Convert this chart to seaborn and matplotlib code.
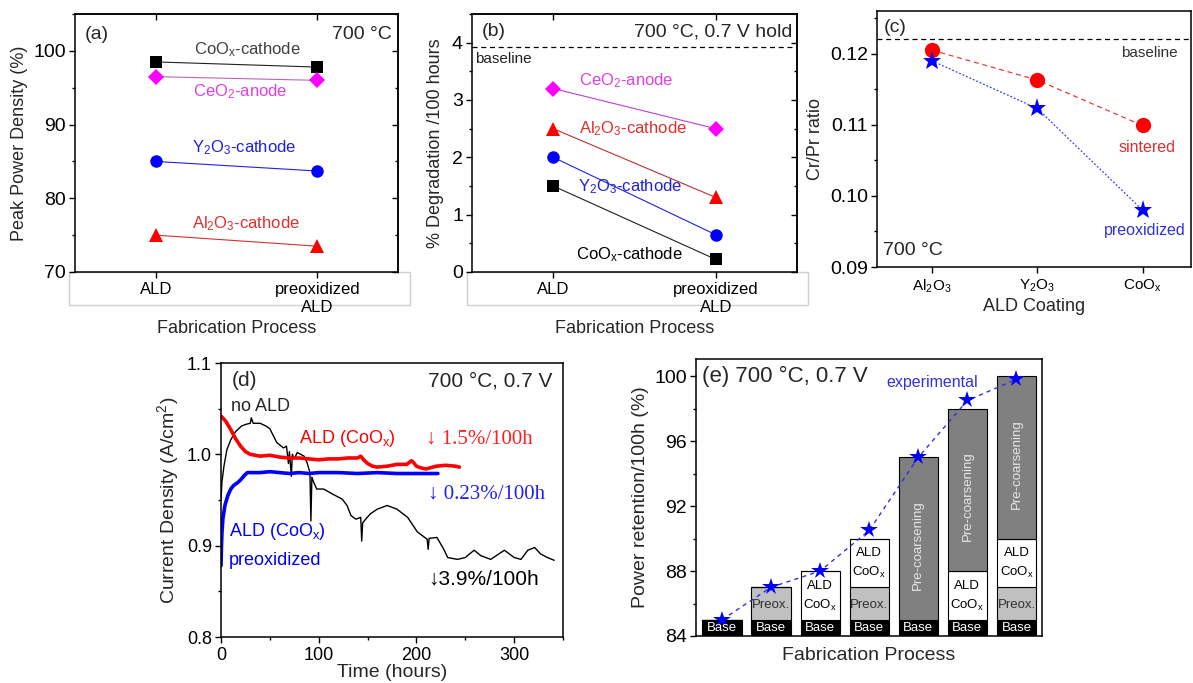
import matplotlib
matplotlib.use('Agg')
import matplotlib.pyplot as plt
from matplotlib.patches import Rectangle
from matplotlib.ticker import MultipleLocator, FormatStrFormatter
import seaborn as sns

# (a) peak power density, ALD vs preoxidized ALD
process = ['ALD', 'preoxidized\nALD']
ppd_coox = [98.5, 97.8]
ppd_ceo2 = [96.5, 96.0]
ppd_y2o3 = [85.0, 83.7]
ppd_al2o3 = [75.0, 73.5]

# (b) degradation per 100 h
deg_ceo2 = [3.2, 2.5]
deg_al2o3 = [2.5, 1.3]
deg_y2o3 = [2.0, 0.65]
deg_coox = [1.5, 0.22]
deg_baseline = 3.92

# (c) Cr/Pr ratio
coatings = ['Al$_2$O$_3$', 'Y$_2$O$_3$', 'CoO$_\\mathrm{x}$']
crpr_sintered = [0.1205, 0.1163, 0.1099]
crpr_preox = [0.1190, 0.1123, 0.0980]
crpr_baseline = 0.1221

# (d) current density vs time
t_noald = [0, 1, 3, 6, 10, 15, 21, 26, 30, 31, 33, 40, 46, 50, 57, 64, 67, 69, 70, 72, 73, 75, 78,
           85, 88, 91, 92, 93, 95, 98, 105, 115, 124, 129, 133, 138, 143, 144, 145, 148, 153, 160,
           170, 180, 191, 201, 211, 212, 213, 221, 228, 232, 242, 250, 259, 266, 276, 290, 300,
           307, 314, 321, 327, 334, 341]
j_noald = [0.951, 0.970, 0.987, 1.005, 1.016, 1.025, 1.031, 1.033, 1.034, 1.040, 1.034, 1.034,
           1.031, 1.028, 1.013, 1.007, 1.009, 0.990, 1.003, 0.976, 1.000, 0.995, 1.002, 0.998,
           0.991, 0.980, 0.927, 0.975, 0.969, 0.962, 0.962, 0.956, 0.951, 0.944, 0.933, 0.929,
           0.931, 0.905, 0.925, 0.929, 0.935, 0.940, 0.944, 0.940, 0.931, 0.915, 0.907, 0.896,
           0.908, 0.909, 0.896, 0.887, 0.885, 0.887, 0.895, 0.889, 0.885, 0.895, 0.887, 0.885,
           0.895, 0.898, 0.891, 0.887, 0.884]
t_coox = [0, 5, 10, 15, 20, 25, 30, 40, 50, 60, 70, 80, 90, 100, 110, 120, 130, 140, 143, 146,
          150, 155, 160, 170, 180, 190, 195, 197, 200, 205, 210, 220, 230, 240, 244]
j_coox = [1.042, 1.036, 1.027, 1.017, 1.009, 1.003, 1.000, 0.998, 0.999, 0.997, 0.996, 0.996,
          0.995, 0.994, 0.995, 0.995, 0.996, 0.996, 0.998, 0.994, 0.990, 0.987, 0.986, 0.987,
          0.989, 0.989, 0.993, 0.991, 0.987, 0.985, 0.984, 0.987, 0.988, 0.987, 0.986]
t_preox = [0, 0.5, 1, 2, 4, 7, 10, 13, 17, 20, 24, 27, 30, 40, 50, 60, 70, 80, 90, 100, 120,
           140, 160, 180, 200, 222]
j_preox = [0.878, 0.900, 0.915, 0.930, 0.944, 0.955, 0.962, 0.966, 0.969, 0.972, 0.977, 0.980,
           0.980, 0.980, 0.981, 0.980, 0.979, 0.980, 0.979, 0.980, 0.980, 0.979, 0.980, 0.979,
           0.979, 0.979]

# (e) stacked contributions to power retention
seg_base = [1, 1, 1, 1, 1, 1, 1]
seg_preox = [0, 2, 0, 2, 0, 0, 2]
seg_ald = [0, 0, 3, 3, 0, 3, 3]
seg_coarse = [0, 0, 0, 0, 10, 10, 10]
experimental = [85.0, 87.0, 88.0, 90.5, 95.0, 98.5, 99.8]

sns.set_theme(style='ticks')
plt.rcParams['font.family'] = ['Liberation Sans', 'DejaVu Sans']
plt.rcParams['mathtext.fontset'] = 'custom'
plt.rcParams['mathtext.rm'] = 'Liberation Sans'
plt.rcParams['mathtext.it'] = 'Liberation Sans:italic'
plt.rcParams['axes.edgecolor'] = 'black'
plt.rcParams['axes.linewidth'] = 1.1
plt.rcParams['xtick.color'] = 'black'
plt.rcParams['ytick.color'] = 'black'

W, H = 1193, 683
fig = plt.figure(figsize=(W / 100, H / 100), dpi=100)


def px_axes(left, top, right, bottom):
    return fig.add_axes([left / W, 1 - bottom / H, (right - left) / W, (bottom - top) / H])


def style_ticks(ax, ysize=14, xsize=12):
    ax.tick_params(which='major', direction='out', length=4.5, width=1, labelsize=ysize, axis='y', pad=2)
    ax.tick_params(which='minor', direction='out', length=2.5, width=1, axis='y')
    ax.tick_params(which='major', direction='out', length=4.5, width=1, labelsize=xsize, axis='x', pad=3)
    ax.tick_params(which='minor', direction='out', length=2.5, width=1, axis='x')
    for s in ax.spines.values():
        s.set_visible(True)
        s.set_color('black')


def mirror(ax, xmaj, ymaj, ymin):
    top = ax.secondary_xaxis('top')
    top.set_xticks(xmaj)
    top.tick_params(direction='in', length=4, width=1, labeltop=False, labelbottom=False)
    right = ax.secondary_yaxis('right')
    right.set_yticks(ymaj)
    right.set_yticks(ymin, minor=True)
    right.tick_params(which='both', direction='in', labelright=False, labelleft=False)
    right.tick_params(which='major', length=4, width=1)
    right.tick_params(which='minor', length=2.5, width=1)


def series(ax, x, y, line_c, mark_c, marker, ms):
    sns.lineplot(x=x, y=y, ax=ax, color=line_c, lw=0.8, marker=marker, ms=ms,
                 mfc=mark_c, mec=mark_c, mew=0, estimator=None, sort=False)


# ---------- (a) ----------
ax = px_axes(75, 14, 398, 272)
series(ax, [0, 1], ppd_coox, '#202020', 'black', 's', 8)
series(ax, [0, 1], ppd_ceo2, '#b868b8', '#ff00ff', 'D', 8)
series(ax, [0, 1], ppd_y2o3, '#2020e0', '#0000ff', 'o', 9)
series(ax, [0, 1], ppd_al2o3, '#d83030', '#ff0000', '^', 10)
ax.set_xlim(-0.5, 1.5)
ax.set_ylim(70, 105)
ax.set_xticks([0, 1])
ax.set_xticklabels(process)
ax.yaxis.set_major_locator(MultipleLocator(10))
ax.yaxis.set_minor_locator(MultipleLocator(5))
style_ticks(ax)
mirror(ax, [0, 1], [70, 80, 90, 100], [75, 85, 95, 105])
ax.set_xlabel('Fabrication Process', fontsize=13)
ax.set_ylabel('Peak Power Density (%)', fontsize=13, labelpad=4)
ax.text(0.03, 0.955, '(a)', transform=ax.transAxes, fontsize=14, va='top')
ax.text(0.98, 0.955, '700 °C', transform=ax.transAxes, fontsize=14, va='top', ha='right')
ax.text(0.565, 100.1, 'CoO$_\\mathrm{x}$-cathode', color='#404040', fontsize=12, ha='center', va='center')
ax.text(0.52, 94.5, 'CeO$_2$-anode', color='#e040e0', fontsize=12, ha='center', va='center')
ax.text(0.55, 86.9, 'Y$_2$O$_3$-cathode', color='#2020e0', fontsize=12, ha='center', va='center')
ax.text(0.56, 76.6, 'Al$_2$O$_3$-cathode', color='#e03030', fontsize=12, ha='center', va='center')

# ---------- (b) ----------
ax = px_axes(472, 14, 797, 272)
series(ax, [0, 1], deg_ceo2, '#c040c8', '#ff00ff', 'D', 8)
series(ax, [0, 1], deg_al2o3, '#c03030', '#ff0000', '^', 10)
series(ax, [0, 1], deg_y2o3, '#2020e0', '#0000ff', 'o', 9)
series(ax, [0, 1], deg_coox, '#202020', 'black', 's', 8)
ax.axhline(deg_baseline, color='black', lw=0.9, ls=(0, (4, 3)))
ax.set_xlim(-0.5, 1.5)
ax.set_ylim(0, 4.5)
ax.set_xticks([0, 1])
ax.set_xticklabels(process)
ax.yaxis.set_major_locator(MultipleLocator(1))
ax.yaxis.set_minor_locator(MultipleLocator(0.5))
style_ticks(ax)
mirror(ax, [0, 1], [0, 1, 2, 3, 4], [0.5, 1.5, 2.5, 3.5])
ax.set_xlabel('Fabrication Process', fontsize=13)
ax.set_ylabel('% Degradation /100 hours', fontsize=13, labelpad=6)
ax.text(0.03, 0.965, '(b)', transform=ax.transAxes, fontsize=14, va='top')
ax.text(0.985, 0.965, '700 °C, 0.7 V hold', transform=ax.transAxes, fontsize=14, va='top', ha='right')
ax.text(0.01, 3.72, 'baseline', transform=ax.get_yaxis_transform(), fontsize=11, va='center', color='#202020')
ax.text(0.45, 3.33, 'CeO$_2$-anode', color='#e040e0', fontsize=12, ha='center', va='center')
ax.text(0.49, 2.50, 'Al$_2$O$_3$-cathode', color='#e03030', fontsize=12, ha='center', va='center')
ax.text(0.47, 1.48, 'Y$_2$O$_3$-cathode', color='#2020e0', fontsize=12, ha='center', va='center')
ax.text(0.47, 0.30, 'CoO$_\\mathrm{x}$-cathode', color='black', fontsize=12, ha='center', va='center')

# light frames under the x axes of (a) and (b)
for x0, x1 in [(69, 410), (467, 808)]:
    fig.add_artist(Rectangle((x0 / W, 1 - 305 / H), (x1 - x0) / W, 33 / H, transform=fig.transFigure,
                             fill=False, edgecolor='#cfcfcf', lw=1, zorder=0))

# ---------- (c) ----------
ax = px_axes(877, 11, 1191, 267)
sns.lineplot(x=[0, 1, 2], y=crpr_sintered, ax=ax, color='#e04040', lw=0.9, ls=(0, (4, 3)),
             marker='o', ms=11, mfc='#ff0000', mec='#ff0000', mew=0, estimator=None, sort=False)
sns.lineplot(x=[0, 1, 2], y=crpr_preox, ax=ax, color='#4040e0', lw=0.9, ls=(0, (1.5, 1.5)),
             marker='*', ms=14, mfc='#0000ff', mec='#0000ff', mew=0, estimator=None, sort=False)
ax.axhline(crpr_baseline, color='black', lw=0.9, ls=(0, (4, 3)))
ax.set_xlim(-0.52, 2.46)
ax.set_ylim(0.09, 0.126)
ax.set_xticks([0, 1, 2])
ax.set_xticklabels(coatings)
ax.yaxis.set_major_locator(MultipleLocator(0.01))
ax.yaxis.set_minor_locator(MultipleLocator(0.005))
ax.yaxis.set_major_formatter(FormatStrFormatter('%.2f'))
style_ticks(ax, ysize=14, xsize=11)
ax.set_xlabel('ALD Coating', fontsize=13, labelpad=2)
ax.set_ylabel('Cr/Pr ratio', fontsize=13, labelpad=4)
ax.text(0.02, 0.97, '(c)', transform=ax.transAxes, fontsize=14, va='top')
ax.text(2.33, 0.1201, 'baseline', color='#303030', fontsize=11, ha='right', va='center')
ax.text(2.04, 0.1068, 'sintered', color='#e03030', fontsize=11.5, ha='center', va='center')
ax.text(2.02, 0.0951, 'preoxidized', color='#3030e0', fontsize=11.5, ha='center', va='center')
ax.text(0.02, 0.03, '700 °C', transform=ax.transAxes, fontsize=14, va='bottom')

# ---------- (d) ----------
ax = px_axes(221, 363, 563, 637)
sns.lineplot(x=t_noald, y=j_noald, ax=ax, color='black', lw=1.0, estimator=None, sort=False)
sns.lineplot(x=t_coox, y=j_coox, ax=ax, color='#ff0000', lw=2.6, estimator=None, sort=False)
sns.lineplot(x=t_preox, y=j_preox, ax=ax, color='#0000ff', lw=2.6, estimator=None, sort=False)
ax.set_xlim(0, 350)
ax.set_ylim(0.8, 1.1)
ax.xaxis.set_major_locator(MultipleLocator(100))
ax.xaxis.set_minor_locator(MultipleLocator(50))
ax.yaxis.set_major_locator(MultipleLocator(0.1))
ax.yaxis.set_minor_locator(MultipleLocator(0.05))
ax.yaxis.set_major_formatter(FormatStrFormatter('%.1f'))
style_ticks(ax, ysize=13, xsize=13)
ax.set_xlabel('Time (hours)', fontsize=14, labelpad=0)
ax.set_ylabel('Current Density (A/cm$^2$)', fontsize=14, labelpad=4)
ax.text(0.03, 0.97, '(d)', transform=ax.transAxes, fontsize=15, va='top')
ax.text(0.97, 0.97, '700 °C, 0.7 V', transform=ax.transAxes, fontsize=15, va='top', ha='right')
ax.text(10, 1.052, 'no ALD', fontsize=13, va='center')
ax.text(80, 1.017, 'ALD (CoO$_\\mathrm{x}$)', color='#ff0000', fontsize=13, va='center')
ax.text(210, 1.017, '↓ 1.5%/100h', color='#ff2020', fontsize=15, va='center',
        family=['Liberation Serif', 'DejaVu Serif'])
ax.text(212, 0.957, '↓ 0.23%/100h', color='#2020ff', fontsize=15, va='center',
        family=['Liberation Serif', 'DejaVu Serif'])
ax.text(8, 0.915, 'ALD (CoO$_\\mathrm{x}$)', color='#0000ff', fontsize=13, va='center')
ax.text(8, 0.884, 'preoxidized', color='#0000ff', fontsize=13, va='center')
ax.text(212, 0.863, '↓3.9%/100h', color='black', fontsize=15, va='center')

# ---------- (e) ----------
ax = px_axes(696, 359, 1042, 636)
pos = list(range(len(experimental)))
bottom = [84] * len(pos)
for seg, col in [(seg_base, 'black'), (seg_preox, '#c0c0c0'), (seg_ald, 'white'), (seg_coarse, '#808080')]:
    ax.bar(pos, seg, bottom=bottom, width=0.8, color=col, edgecolor='black', lw=0.8)
    bottom = [b + s for b, s in zip(bottom, seg)]
sns.lineplot(x=pos, y=experimental, ax=ax, color='#3030e0', lw=1.0, ls=(0, (3, 3)),
             marker='*', ms=13, mfc='#0000ff', mec='#0000ff', mew=0, estimator=None, sort=False)
for i in pos:
    ax.text(i, 84.5, 'Base', color='white', fontsize=9.5, ha='center', va='center')
    y0 = 85
    if seg_preox[i]:
        ax.text(i, y0 + seg_preox[i] / 2 - 0.1, 'Preox.', color='#303030', fontsize=9.5, ha='center', va='center')
        y0 += seg_preox[i]
    if seg_ald[i]:
        ax.text(i, y0 + 2.1, 'ALD', color='black', fontsize=9.5, ha='center', va='center')
        ax.text(i, y0 + 0.9, 'CoO$_\\mathrm{x}$', color='black', fontsize=9.5, ha='center', va='center')
        y0 += seg_ald[i]
    if seg_coarse[i]:
        ax.text(i, y0 + seg_coarse[i] / 2 - 0.4, 'Pre-coarsening', color='#e8e8e8', fontsize=9.5,
                ha='center', va='center', rotation=90)
ax.set_xlim(-0.53, 6.52)
ax.set_ylim(84, 101.05)
ax.set_xticks([])
ax.yaxis.set_major_locator(MultipleLocator(4))
ax.yaxis.set_minor_locator(MultipleLocator(2))
style_ticks(ax, ysize=14)
ax.set_xlabel('Fabrication Process', fontsize=14, labelpad=8)
ax.set_ylabel('Power retention/100h (%)', fontsize=14, labelpad=4)
ax.text(0.017, 0.975, '(e) 700 °C, 0.7 V', transform=ax.transAxes, fontsize=16, va='top')
ax.text(4.29, 99.6, 'experimental', color='#3030e0', fontsize=11.5, ha='center', va='center')

fig.savefig('out.png', dpi=100, facecolor='white')
